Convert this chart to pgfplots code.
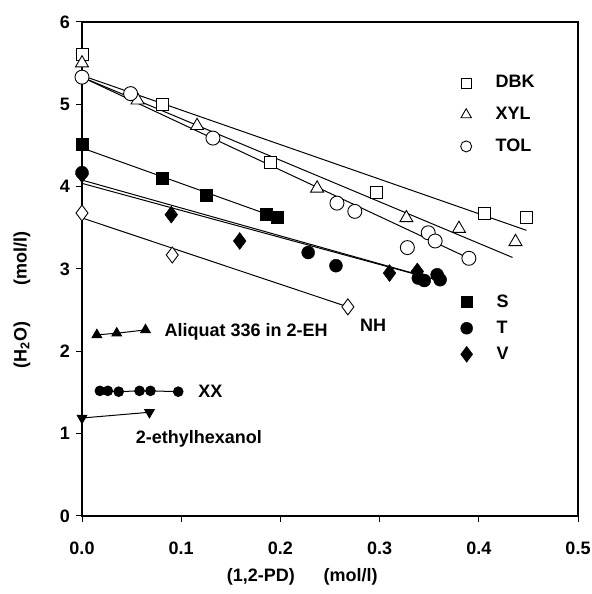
\documentclass[border=0pt]{standalone}
\usepackage{fontspec}
\setmainfont{Liberation Sans}
\usepackage{pgfplots}
\pgfplotsset{compat=1.18}
\begin{document}
\fontsize{18}{21}\selectfont\bfseries
\begin{tikzpicture}
\tikzset{lbl/.style={font=\fontsize{18}{21}\selectfont\bfseries}}
\pgfplotsset{
  fitline/.style={black, line width=1pt, no marks, forget plot},
  openmk/.style={only marks, mark options={fill=white, line width=0.9pt}, black, forget plot},
}
\begin{axis}[
  name=main,
  scale only axis, width=496pt, height=494pt,
  xmin=0, xmax=0.5, ymin=0, ymax=6,
  xtick={0,0.1,0.2,0.3,0.4,0.5}, ytick={0,1,2,3,4,5,6},
  xticklabels={0.0,0.1,0.2,0.3,0.4,0.5},
  /pgf/number format/assume math mode=true,
  tick label style={font=\fontsize{18}{21}\selectfont\bfseries},
  xticklabel style={yshift=-14pt},
  tick align=outside, xtick pos=left, ytick pos=left,
  major tick length=6pt,
  tick style={black, line width=1pt},
  axis line style={line width=1.2pt},
  xlabel={(1,2-PD)\hspace{1.6em}(mol/l)},
  ylabel={(H\textsubscript{2}O)\hspace{2em}(mol/l)},
  label style={font=\fontsize{18}{21}\selectfont\bfseries},
  xlabel style={at={(rel axis cs:0.444,-0.1235)}, anchor=center},
  ylabel style={at={(rel axis cs:-0.121,0.437)}, anchor=center},
  legend style={at={(rel axis cs:0.757,0.9)}, anchor=north west, draw=none, fill=none,
    font=\fontsize{18}{21}\selectfont\bfseries, row sep=12.5pt, column sep=22pt},
  legend cell align=left,
  clip=false,
]
% fit lines
\addplot[fitline] coordinates {(0,5.35) (0.448,3.47)};
\addplot[fitline] coordinates {(0,5.33) (0.434,3.14)};
\addplot[fitline] coordinates {(0,5.33) (0.39,3.13)};
\addplot[fitline] coordinates {(0,4.47) (0.19,3.65)};
\addplot[fitline] coordinates {(0,4.08) (0.36,2.86)};
\addplot[fitline] coordinates {(0,4.04) (0.338,2.93)};
\addplot[fitline] coordinates {(0,3.62) (0.268,2.54)};
% DBK
\addplot[openmk, mark=square*, mark size=6pt] coordinates {
(0,5.61) (0.081,5.00) (0.19,4.30) (0.297,3.93) (0.406,3.67) (0.448,3.63)};
% XYL
\addplot[openmk, mark=triangle*, mark size=7.5pt] coordinates {
(0,5.50) (0.056,5.05) (0.116,4.74) (0.237,3.98) (0.327,3.62) (0.38,3.49) (0.437,3.33)};
% TOL
\addplot[openmk, mark=*, mark size=7pt] coordinates {
(0,5.33) (0.049,5.13) (0.132,4.59) (0.257,3.80) (0.275,3.70) (0.328,3.26) (0.349,3.44) (0.356,3.34) (0.39,3.13)};
% NH
\addplot[openmk, mark=diamond*, mark size=8pt] coordinates {
(0,3.68) (0.091,3.17) (0.268,2.54)};
% S
\addplot[only marks, black, mark=square*, mark size=6pt, forget plot] coordinates {
(0,4.52) (0.081,4.10) (0.125,3.90) (0.186,3.66) (0.197,3.63)};
% T
\addplot[only marks, black, mark=*, mark size=6.5pt, forget plot] coordinates {
(0,4.17) (0.228,3.20) (0.256,3.04) (0.339,2.89) (0.345,2.86) (0.358,2.93) (0.361,2.87)};
% V
\addplot[only marks, black, mark=diamond*, mark size=8.5pt, forget plot] coordinates {
(0,4.15) (0.090,3.66) (0.159,3.34) (0.31,2.95) (0.338,2.97)};
% Aliquat 336 in 2-EH
\addplot[black, line width=1pt, mark=triangle*, mark size=5.5pt, forget plot] coordinates {
(0.015,2.20) (0.035,2.22) (0.064,2.26)};
% XX
\addplot[black, line width=1pt, mark=*, mark size=4.8pt, forget plot] coordinates {
(0.018,1.52) (0.026,1.52) (0.037,1.51) (0.058,1.52) (0.069,1.52) (0.097,1.51)};
% 2-ethylhexanol
\addplot[black, line width=1pt, mark=triangle*, mark options={rotate=180}, mark size=5.5pt, forget plot] coordinates {
(0,1.19) (0.068,1.26)};
% legend images
\addlegendimage{only marks, black, mark=square*, mark options={fill=white, line width=0.9pt}, mark size=5pt}
\addlegendentry{DBK}
\addlegendimage{only marks, black, mark=triangle*, mark options={fill=white, line width=0.9pt}, mark size=6pt}
\addlegendentry{XYL}
\addlegendimage{only marks, black, mark=*, mark options={fill=white, line width=0.9pt}, mark size=5.5pt}
\addlegendentry{TOL}
% text labels
\node[lbl, anchor=west] at (axis cs:0.077,2.24) {Aliquat 336 in 2-EH};
\node[lbl, anchor=west] at (axis cs:0.111,1.52) {XX};
\node[lbl, anchor=west] at (axis cs:0.048,0.94) {2-ethylhexanol};
\node[lbl, anchor=west] at (axis cs:0.274,2.31) {NH};
\end{axis}
\begin{axis}[
  scale only axis, width=496pt, height=494pt,
  xmin=0, xmax=0.5, ymin=0, ymax=6,
  hide axis,
  legend style={at={(rel axis cs:0.757,0.457)}, anchor=north west, draw=none, fill=none,
    font=\fontsize{18}{21}\selectfont\bfseries, row sep=7pt, column sep=22pt},
  legend cell align=left,
]
\addlegendimage{only marks, black, mark=square*, mark size=5.5pt}
\addlegendentry{S}
\addlegendimage{only marks, black, mark=*, mark size=6pt}
\addlegendentry{T}
\addlegendimage{only marks, black, mark=diamond*, mark size=8pt}
\addlegendentry{V}
\end{axis}
\pgfresetboundingbox
\path[use as bounding box] ([shift={(-82pt,-78pt)}]main.south west) rectangle ([shift={(13pt,22pt)}]main.north east);
\end{tikzpicture}
\end{document}
